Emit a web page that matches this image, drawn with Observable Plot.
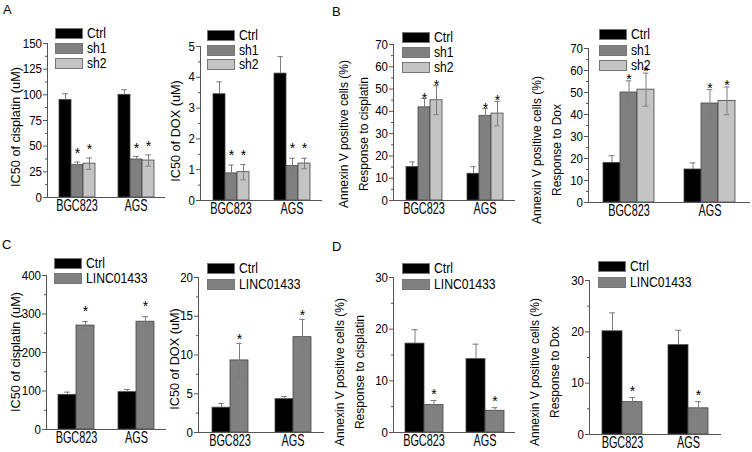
<!DOCTYPE html>
<html><head><meta charset="utf-8">
<script src="https://cdn.jsdelivr.net/npm/d3@7"></script>
<script src="https://cdn.jsdelivr.net/npm/@observablehq/plot@0.6"></script>
<style>
body{margin:0;background:#fff;}
#fig{position:relative;width:752px;height:452px;overflow:hidden;background:#fff;}
.ylab{position:absolute;transform:translate(-50%,-50%) rotate(-90deg);white-space:nowrap;text-align:center;font-family:"Liberation Sans",Arial,sans-serif;font-size:12.7px;line-height:20px;color:#000;}
.ylab.two{font-size:12px;}
.letter{position:absolute;font-family:"Liberation Sans",Arial,sans-serif;font-size:13px;line-height:13px;color:#000;}
.lrow{position:absolute;left:0;height:11px;white-space:nowrap;display:flex;align-items:flex-start;}
.sw{display:inline-block;flex:none;width:28px;height:11px;box-sizing:border-box;border:1px solid #777;}
.lt{display:inline-block;font-family:"Liberation Sans",Arial,sans-serif;font-size:14px;line-height:11px;margin-left:4px;color:#000;transform:scaleX(0.87);transform-origin:left center;}
</style>
</head><body><div id="fig"></div>
<script>
// ---------- data ----------
const cells = ["BGC823", "AGS"];
const shGroups = ["Ctrl", "sh1", "sh2"];
const oeGroups = ["Ctrl", "LINC01433"];

const ic50CisSh = [[95, 31.5, 33], [100, 37, 36]];
const ic50CisShErr = [[6, 3, 5.5], [5, 3, 5.5]];
const ic50DoxSh = [[3.45, 0.88, 0.92], [4.12, 1.12, 1.2]];
const ic50DoxShErr = [[0.4, 0.27, 0.25], [0.55, 0.25, 0.17]];
const apoCisSh = [[15, 41.8, 45], [12, 38, 39]];
const apoCisShErr = [[2.3, 4, 6.5], [3.2, 3.2, 5.5]];
const apoDoxSh = [[18, 50, 51.3], [15, 45, 46.2]];
const apoDoxShErr = [[3.3, 5.3, 7.5], [3, 6.3, 6.3]];

const ic50CisOe = [[90, 270], [97, 280]];
const ic50CisOeErr = [[7, 10], [7, 13]];
const ic50DoxOe = [[3.2, 9.3], [4.3, 12.3]];
const ic50DoxOeErr = [[0.55, 2.2], [0.35, 2.3]];
const apoCisOe = [[17.2, 5.3], [14.2, 4.2]];
const apoCisOeErr = [[2.7, 0.9], [2.9, 0.6]];
const apoDoxOe = [[20.1, 6.3], [17.4, 5.1]];
const apoDoxOeErr = [[3.6, 0.9], [2.9, 1.3]];

const ticksA1 = [0, 25, 50, 75, 100, 125, 150];
const ticksA2 = [0, 1, 2, 3, 4, 5];
const ticksB = [0, 10, 20, 30, 40, 50, 60, 70];
const ticksC1 = [0, 100, 200, 300, 400];
const ticksC2 = [0, 5, 10, 15, 20];
const ticksD = [0, 10, 20, 30];

const labelIc50Cis = ["IC50 of cisplatin (uM)"];
const labelIc50Dox = ["IC50 of DOX (uM)"];
const labelApoCis = ["Annexin V positive cells (%)", "Response to cisplatin"];
const labelApoDox = ["Annexin V positive cells (%)", "Response to Dox"];
const panelLetters = ["A", "B", "C", "D"];

// ---------- styles ----------
const shColors = ["#000000", "#808080", "#c4c4c4"];
const oeColors = ["#000000", "#808080"];
const axisColor = "#555555";
const errColor = "#7c7c7c";
const font = '"Liberation Sans",Arial,sans-serif';

// ---------- layout ----------
const panels = [
  {mean: ic50CisSh, err: ic50CisShErr, groups: shGroups, colors: shColors, ticks: ticksA1, ylabel: labelIc50Cis,
   x0: 47, x1: 165, yTop: 43, yBase: 197, barW: 12.3, astGap: 12, leg: {left: 55, top: 28, step: 15}, yl: {cx: 16, cy: 127}},
  {mean: ic50DoxSh, err: ic50DoxShErr, groups: shGroups, colors: shColors, ticks: ticksA2, ylabel: labelIc50Dox,
   x0: 199, x1: 322, yTop: 46, yBase: 200, barW: 12.5, astGap: 13, leg: {left: 207, top: 30, step: 14.5}, yl: {cx: 176, cy: 131}},
  {mean: apoCisSh, err: apoCisShErr, groups: shGroups, colors: shColors, ticks: ticksB, ylabel: labelApoCis,
   x0: 393, x1: 515, yTop: 44, yBase: 200, barW: 12.4, astGap: 4, leg: {left: 402, top: 32, step: 15}, yl: {cx: 354, cy: 134}},
  {mean: apoDoxSh, err: apoDoxShErr, groups: shGroups, colors: shColors, ticks: ticksB, ylabel: labelApoDox,
   x0: 588, x1: 750, yTop: 48, yBase: 202, barW: 17.2, astGap: 5, leg: {left: 599, top: 29, step: 15.5}, yl: {cx: 547, cy: 150}},
  {mean: ic50CisOe, err: ic50CisOeErr, groups: oeGroups, colors: oeColors, ticks: ticksC1, ylabel: labelIc50Cis,
   x0: 46, x1: 166, yTop: 275, yBase: 429, barW: 18, astGap: 14, leg: {left: 54, top: 258, step: 15}, yl: {cx: 16, cy: 352}},
  {mean: ic50DoxOe, err: ic50DoxOeErr, groups: oeGroups, colors: oeColors, ticks: ticksC2, ylabel: labelIc50Dox,
   x0: 198, x1: 324, yTop: 277, yBase: 432, barW: 18.5, astGap: 7, leg: {left: 207, top: 263, step: 16}, yl: {cx: 175, cy: 359}},
  {mean: apoCisOe, err: apoCisOeErr, groups: oeGroups, colors: oeColors, ticks: ticksD, ylabel: labelApoCis,
   x0: 393, x1: 515, yTop: 277, yBase: 432, barW: 19, astGap: 10, leg: {left: 402, top: 263, step: 16}, yl: {cx: 350, cy: 372}},
  {mean: apoDoxOe, err: apoDoxOeErr, groups: oeGroups, colors: oeColors, ticks: ticksD, ylabel: labelApoDox,
   x0: 589, x1: 721, yTop: 280, yBase: 434, barW: 20, astGap: 10, leg: {left: 598, top: 261, step: 16}, yl: {cx: 545, cy: 372}}
];
const letterPos = [{left: 3, top: 3}, {left: 332, top: 5}, {left: 2, top: 238}, {left: 332, top: 240}];

const fig = document.getElementById("fig");
function place(el, left, top) {
  el.style.position = "absolute";
  el.style.left = left + "px";
  el.style.top = top + "px";
  fig.appendChild(el);
}
// narrow the horizontal text the way the reference figure's type is narrowed
function condense(svg, selector, sx) {
  svg.querySelectorAll(selector).forEach(t => {
    const xa = t.getAttribute("x");
    const x = xa !== null && !isNaN(+xa) ? +xa : 0;
    const tr = t.getAttribute("transform") || "";
    t.setAttribute("transform", `${tr} translate(${x},0) scale(${sx},1) translate(${-x},0)`);
  });
}

function drawPanel(p) {
  const mL = 40, mR = 4, mT = 6, mB = 26;
  const W = p.x1 - p.x0 + mL + mR;
  const H = p.yBase - p.yTop + mT + mB;
  const rows = [];
  cells.forEach((c, ci) => p.groups.forEach((g, gi) => rows.push({cell: c, group: g, v: p.mean[ci][gi], e: p.err[ci][gi], ctrl: gi === 0})));
  const treated = rows.filter(d => !d.ctrl);
  const n = p.groups.length;
  const facetW = (p.x1 - p.x0) / cells.length;
  const po = (facetW / p.barW - n) / 2;
  const capInset = p.barW / 2 - 3;
  const ticks = p.ticks;
  const step = ticks[1] - ticks[0];
  const minor = ticks.slice(0, -1).map(t => t + step / 2);
  const svg = Plot.plot({
    width: W, height: H,
    marginLeft: mL, marginRight: mR, marginTop: mT, marginBottom: mB,
    facet: {marginTop: 0, marginRight: 0, marginBottom: 0, marginLeft: 0},
    style: {background: "transparent", fontFamily: font, overflow: "visible", color: "#000"},
    fx: {domain: cells, padding: 0},
    x: {domain: p.groups, paddingInner: 0, paddingOuter: po, axis: null},
    y: {domain: [0, ticks[ticks.length - 1]]},
    color: {domain: p.groups, range: p.colors},
    marks: [
      Plot.barY(rows, {fx: "cell", x: "group", y: "v", fill: "group", stroke: "#444", strokeWidth: 0.8}),
      Plot.ruleX(rows, {fx: "cell", x: "group", y1: d => d.ctrl ? d.v : d.v - d.e, y2: d => d.v + d.e, stroke: errColor, strokeWidth: 1}),
      Plot.tickY(rows, {fx: "cell", x: "group", y: d => d.v + d.e, insetLeft: capInset, insetRight: capInset, stroke: errColor, strokeWidth: 1}),
      Plot.tickY(treated, {fx: "cell", x: "group", y: d => d.v - d.e, insetLeft: capInset, insetRight: capInset, stroke: errColor, strokeWidth: 1}),
      Plot.text(treated, {fx: "cell", x: "group", y: d => d.v + d.e, text: () => "*", dy: -(p.astGap - 3.6), fontSize: 14, fill: "#000"}),
      Plot.ruleY([0], {stroke: axisColor, strokeWidth: 1}),
      Plot.frame({anchor: "left", facetAnchor: "left", stroke: axisColor, strokeWidth: 1}),
      Plot.axisY({ticks: ticks, tickFormat: d => `${d}`, tickSize: 4, tickPadding: 1.5, fontSize: 12.5, label: null, stroke: axisColor, fill: "#000"}),
      Plot.axisY({ticks: minor, tickSize: 2, label: null, stroke: axisColor, fill: "none"}),
      Plot.axisFx({anchor: "bottom", tickSize: 0, tickPadding: 2, fontSize: 16, label: null, fill: "#000"})
    ]
  });
  condense(svg, 'g[aria-label="y-axis tick label"] text', 0.92);
  condense(svg, 'g[aria-label="fx-axis tick label"] text', 0.68);
  place(svg, p.x0 - mL, p.yTop - mT);

  // legend
  const leg = document.createElement("div");
  p.groups.forEach((g, i) => {
    const row = document.createElement("div");
    row.className = "lrow";
    row.style.top = (i * p.leg.step) + "px";
    const sw = document.createElement("span");
    sw.className = "sw";
    sw.style.background = p.colors[i];
    const tx = document.createElement("span");
    tx.className = "lt";
    tx.textContent = g;
    row.append(sw, tx);
    leg.appendChild(row);
  });
  place(leg, p.leg.left, p.leg.top);

  // y label
  const yl = document.createElement("div");
  yl.className = p.ylabel.length > 1 ? "ylab two" : "ylab";
  p.ylabel.forEach((t, i) => {
    if (i) yl.appendChild(document.createElement("br"));
    yl.appendChild(document.createTextNode(t));
  });
  place(yl, p.yl.cx, p.yl.cy);
}

panels.forEach(drawPanel);
panelLetters.forEach((l, i) => {
  const d = document.createElement("div");
  d.className = "letter";
  d.textContent = l;
  place(d, letterPos[i].left, letterPos[i].top);
});
</script>
</body></html>
